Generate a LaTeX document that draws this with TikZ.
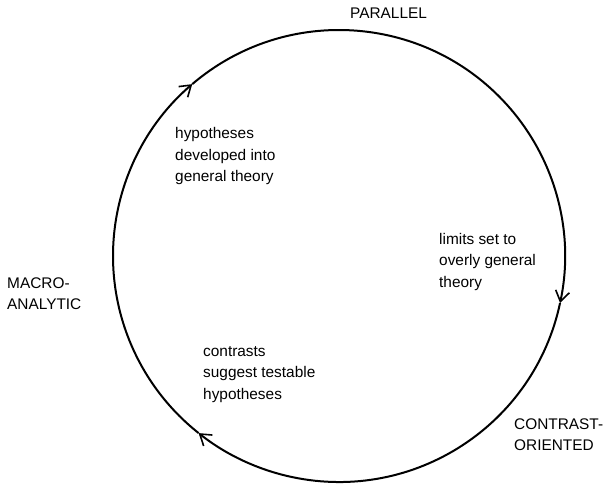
\documentclass[tikz,border=0pt]{standalone}
\usepackage{fontspec}
\setmainfont{Liberation Sans}
\usetikzlibrary{arrows.meta}
\begin{document}
\begin{tikzpicture}[x=1pt,y=1pt,
  lbl/.style={inner sep=0pt, anchor=base west, align=left, font=\fontsize{15.4}{21.5}\selectfont},
  ring/.style={line width=2pt, -{Straight Barb[length=10.5pt,width=14pt,line width=1.6pt]}}]
\useasboundingbox (0,0) rectangle (606,486);
\coordinate (c) at (339,230);
\path (c) ++(130.5:226) coordinate (a1);
\path (c) ++(-12:226) coordinate (a2);
\path (c) ++(231.6:226) coordinate (a3);
\draw[ring] (a3) arc[start angle=231.6, end angle=130.5, radius=226];
\draw[ring] (a1) arc[start angle=130.5, end angle=-12, radius=226];
\draw[ring] (a2) arc[start angle=-12, end angle=-128.4, radius=226];
\node[lbl] (par) at (350,467.5) {PARALLEL};
\node[lbl] (mac) at (7,176) {MACRO-\\ANALYTIC};
\node[lbl] (hyp) at (175,304) {hypotheses\\developed into\\general theory};
\node[lbl] (lim) at (439,198.5) {limits set to\\overly general\\theory};
\node[lbl] (con) at (203,86.5) {contrasts\\suggest testable\\hypotheses};
\node[lbl] (cor) at (514,35) {CONTRAST-\\ORIENTED};
\end{tikzpicture}
\end{document}
